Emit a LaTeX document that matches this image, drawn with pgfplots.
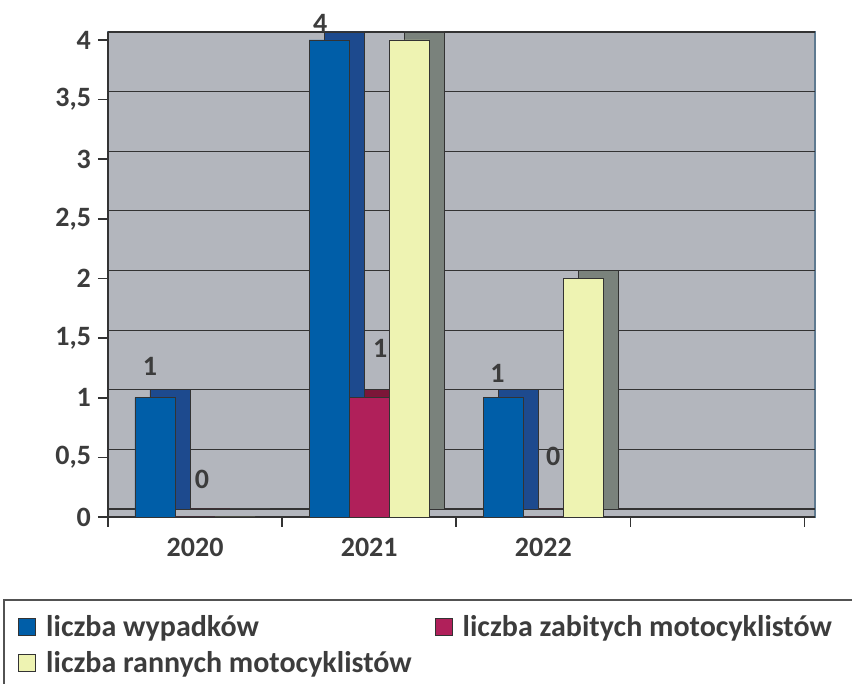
\documentclass[border=0pt]{standalone}
\usepackage{pgfplots}
\pgfplotsset{compat=1.18}
\usepackage{fontspec}
\setmainfont{Carlito}
\definecolor{wall}{HTML}{B3B6BD}
\definecolor{gridc}{HTML}{333333}
\definecolor{txt}{HTML}{3C3C3C}
\definecolor{bluef}{HTML}{005EA8}
\definecolor{blues}{HTML}{1D4A8E}
\definecolor{redf}{HTML}{B0205A}
\definecolor{reds}{HTML}{7C1638}
\definecolor{yelf}{HTML}{EEF3B2}
\definecolor{yels}{HTML}{7A827C}
\definecolor{framec}{HTML}{5F7A90}
\begin{document}
\begin{tikzpicture}
\begin{axis}[
  at={(0,0)}, anchor=south west,
  width=353.5pt, height=242.5pt, scale only axis,
  xmin=-0.5, xmax=3.56, ymin=0, ymax=4.067,
  clip=false,
  axis x line*=bottom, axis y line*=left,
  axis line style={draw=gridc, line width=0.8pt, -},
  axis background/.style={fill=wall, draw=framec, line width=0.6pt},
  xtick={0,1,2}, xticklabels={2020,2021,2022},
  major x tick style={draw=none},
  minor xtick={-0.5,0.5,1.5,2.5,3.5},
  minor tick length=5pt,
  minor x tick style={draw=gridc, line width=0.8pt},
  ytick={0,0.5,1,1.5,2,2.5,3,3.5,4},
  tick align=outside,
  major tick length=5pt,
  major y tick style={draw=gridc, line width=0.8pt},
  ymajorgrids,
  major grid style={draw=gridc, line width=0.6pt, yshift=4pt},
  ticklabel style={font=\bfseries\fontsize{14}{16}\selectfont, text=txt},
  xticklabel style={yshift=-2pt},
  /pgf/number format/use comma,
  /pgf/number format/assume math mode=true,
  legend columns=2,
  legend cell align=left,
  legend style={at={(-0.136,-0.185)}, anchor=north west, draw=none, fill=none,
    font=\bfseries\fontsize{15}{17}\selectfont, text=txt, row sep=2pt,
    /tikz/every odd column/.append style={column sep=3pt},
    /tikz/every even column/.append style={column sep=9.5pt}},
]
% side/top faces (shifted copies)
\addplot[ybar, bar width=0.23, bar shift=-0.23, fill=blues, draw=gridc, line width=0.4pt, xshift=7.5pt, yshift=4pt, forget plot]
  coordinates {(0,1) (1,4) (2,1)};
\addplot[ybar, bar width=0.23, bar shift=0, fill=reds, draw=gridc, line width=0.4pt, xshift=7.5pt, yshift=4pt, forget plot]
  coordinates {(0,0) (1,1) (2,0)};
\addplot[ybar, bar width=0.23, bar shift=0.23, fill=yels, draw=gridc, line width=0.4pt, xshift=7.5pt, yshift=4pt, forget plot]
  coordinates {(0,0) (1,4) (2,2)};
% front faces
\addplot[ybar, bar width=0.23, bar shift=-0.23, fill=bluef, draw=gridc, line width=0.4pt,
  legend image code/.code={\draw[fill=bluef, draw=gridc, line width=0.5pt] (0pt,-4.25pt) rectangle (8.5pt,4.25pt);}]
  coordinates {(0,1) (1,4) (2,1)};
\addlegendentry{liczba wypadków}
\addplot[ybar, bar width=0.23, bar shift=0, fill=redf, draw=gridc, line width=0.4pt,
  legend image code/.code={\draw[fill=redf, draw=gridc, line width=0.5pt] (0pt,-4.25pt) rectangle (8.5pt,4.25pt);}]
  coordinates {(0,0) (1,1) (2,0)};
\addlegendentry{liczba zabitych motocyklistów}
\addplot[ybar, bar width=0.23, bar shift=0.23, fill=yelf, draw=gridc, line width=0.4pt,
  legend image code/.code={\draw[fill=yelf, draw=gridc, line width=0.5pt] (0pt,-4.25pt) rectangle (8.5pt,4.25pt);}]
  coordinates {(0,0) (1,4) (2,2)};
\addlegendentry{liczba rannych motocyklistów}
% data labels
\addplot[only marks, mark=none, forget plot, point meta=explicit symbolic,
  nodes near coords,
  every node near coord/.append style={inner sep=0pt, font=\bfseries\fontsize{14}{16}\selectfont, text=txt}]
  coordinates {(-0.259,1.186)[1] (0.040,0.230)[0] (0.718,4.062)[4] (1.063,1.337)[1] (1.736,1.127)[1] (2.057,0.423)[0]};
\end{axis}
\pgfresetboundingbox
\useasboundingbox (-54pt,-83.5pt) rectangle (372pt,258.5pt);
\draw[gridc!85, line width=0.8pt] (-52pt,-100pt) rectangle (400pt,-41.5pt);
\end{tikzpicture}
\end{document}
